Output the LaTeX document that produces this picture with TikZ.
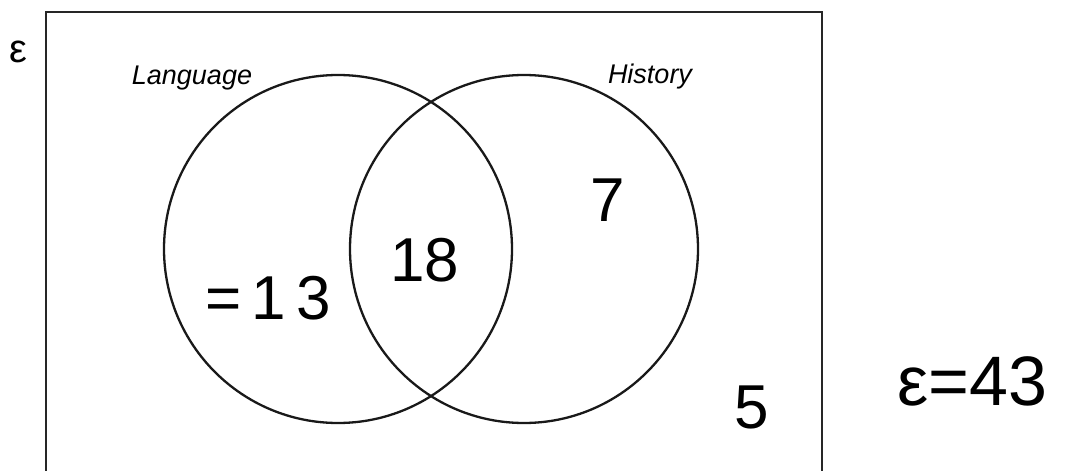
\documentclass[tikz,border=0pt]{standalone}
\usepackage{fontspec}
\setmainfont{Liberation Sans}
\tikzset{
  setcircle/.style={circle,draw=black!90,line width=2.3pt,minimum size=348pt,inner sep=0pt},
  setlabel/.style={font=\fontsize{27}{30}\selectfont\itshape},
  handnum/.style={font=\fontsize{62}{66}\selectfont,inner sep=0pt},
}
\begin{document}
\begin{tikzpicture}[x=1pt,y=-1pt]
\useasboundingbox (0,0) rectangle (1082,471);
% universal set (bottom edge is cut off)
\draw[line width=2.3pt,black!85] (46,471)--(46,12)--(822,12)--(822,471);
\node[font=\fontsize{40}{42}\selectfont](eps) at (18,52){ε};

% the two sets
\node[setcircle](L) at (338,249){};
\node[setcircle](H) at (524,249){};
\node[setlabel](Lname) at (192,78){Language};
\node[setlabel](Hname) at (650,77){History};

% counts
\node[handnum](n13) at (268,298){=\,1\,3};
\node[handnum](n18) at (425,260){18};
\node[handnum](n7) at (608,200){7};
\node[handnum](n5) at (752,407){5};
\node[handnum,font=\fontsize{70}{72}\selectfont](total) at (972,381){ε=43};
\end{tikzpicture}
\end{document}
